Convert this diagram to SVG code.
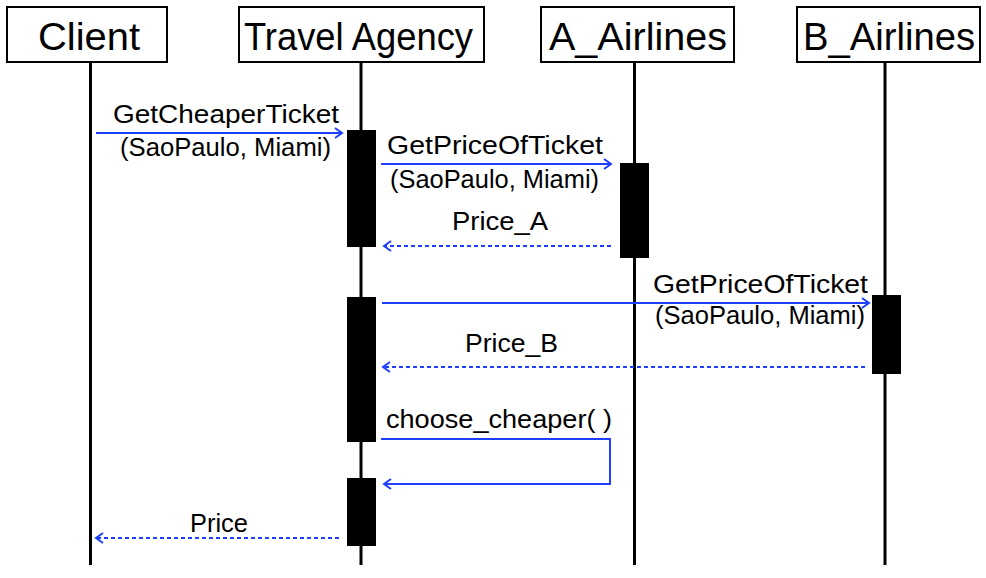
<svg xmlns="http://www.w3.org/2000/svg" width="986" height="578" viewBox="0 0 986 578">
<style>
.box{fill:#fff;stroke:#000;stroke-width:2}
.life{stroke:#000;stroke-width:3}
.act{fill:#000}
.title{font-family:"Liberation Sans",Arial,sans-serif;font-size:38px;fill:#000}
.lbl{font-family:"Liberation Sans",Arial,sans-serif;font-size:26px;fill:#000}
.msg{fill:none;stroke:#1f3fff;stroke-width:2}
.ret{fill:none;stroke:#1f3fff;stroke-width:2;stroke-dasharray:4 3}
</style>
<defs>
<marker id="ah" markerWidth="10" markerHeight="12" refX="8" refY="6" orient="auto" markerUnits="userSpaceOnUse">
<path d="M1,1 L8,6 L1,11" fill="none" stroke="#1f3fff" stroke-width="2"/>
</marker>
</defs>
<rect width="986" height="578" fill="#fff"/>
<g id="client">
<line class="life" x1="90.5" y1="62" x2="90.5" y2="565"/>
<rect class="box" x="7" y="7" width="160" height="55"/>
<text class="title" x="38" y="50" textLength="102" lengthAdjust="spacingAndGlyphs">Client</text>
</g>
<g id="travel-agency">
<line class="life" x1="361" y1="62" x2="361" y2="565"/>
<rect class="box" x="239" y="7" width="245" height="55"/>
<text class="title" x="244" y="50" textLength="229" lengthAdjust="spacingAndGlyphs">Travel Agency</text>
<rect class="act" x="347" y="130" width="29" height="117"/>
<rect class="act" x="347" y="297" width="29" height="145"/>
<rect class="act" x="347" y="478" width="29" height="68"/>
</g>
<g id="a-airlines">
<line class="life" x1="634.5" y1="62" x2="634.5" y2="565"/>
<rect class="box" x="541" y="7" width="193" height="55"/>
<text class="title" x="549" y="50" textLength="178" lengthAdjust="spacingAndGlyphs">A_Airlines</text>
<rect class="act" x="620" y="163" width="29" height="95"/>
</g>
<g id="b-airlines">
<line class="life" x1="885" y1="62" x2="885" y2="565"/>
<rect class="box" x="797" y="7" width="183" height="55"/>
<text class="title" x="803" y="50" textLength="172" lengthAdjust="spacingAndGlyphs">B_Airlines</text>
<rect class="act" x="872" y="295" width="29" height="79"/>
</g>
<g id="connectors">
<line class="msg" x1="96" y1="133" x2="342" y2="133" marker-end="url(#ah)"/>
<line class="msg" x1="381" y1="164" x2="611" y2="164" marker-end="url(#ah)"/>
<line class="ret" x1="611" y1="246" x2="384" y2="246" marker-end="url(#ah)"/>
<line class="msg" x1="382" y1="303" x2="869" y2="303" marker-end="url(#ah)"/>
<line class="ret" x1="865" y1="367" x2="383" y2="367" marker-end="url(#ah)"/>
<polyline class="msg" points="381,439 610,439 610,484 384,484" marker-end="url(#ah)"/>
<line class="ret" x1="339" y1="538" x2="96" y2="538" marker-end="url(#ah)"/>
</g>
<g id="labels">
<text class="lbl" x="113" y="123" textLength="226" lengthAdjust="spacingAndGlyphs">GetCheaperTicket</text>
<text class="lbl" x="120" y="156" textLength="211" lengthAdjust="spacingAndGlyphs">(SaoPaulo, Miami)</text>
<text class="lbl" x="387" y="154" textLength="216" lengthAdjust="spacingAndGlyphs">GetPriceOfTicket</text>
<text class="lbl" x="390" y="188" textLength="209" lengthAdjust="spacingAndGlyphs">(SaoPaulo, Miami)</text>
<text class="lbl" x="452" y="230" textLength="96" lengthAdjust="spacingAndGlyphs">Price_A</text>
<text class="lbl" x="653" y="293" textLength="215" lengthAdjust="spacingAndGlyphs">GetPriceOfTicket</text>
<text class="lbl" x="655" y="324" textLength="210" lengthAdjust="spacingAndGlyphs">(SaoPaulo, Miami)</text>
<text class="lbl" x="465" y="352" textLength="93" lengthAdjust="spacingAndGlyphs">Price_B</text>
<text class="lbl" x="386" y="428" textLength="226" lengthAdjust="spacingAndGlyphs">choose_cheaper( )</text>
<text class="lbl" x="190" y="532" textLength="58" lengthAdjust="spacingAndGlyphs">Price</text>
</g>
</svg>
